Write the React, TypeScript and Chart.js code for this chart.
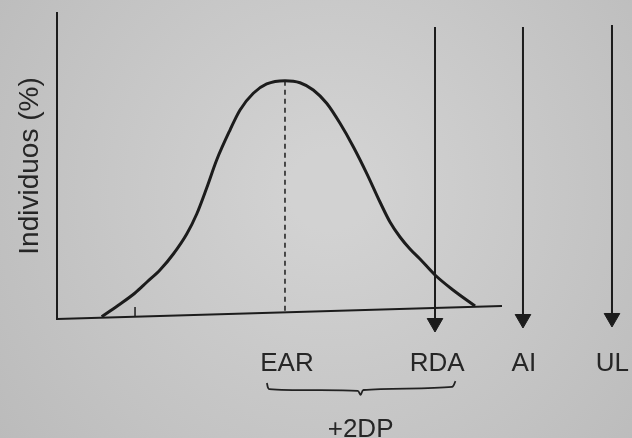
import React, { useEffect, useRef } from "react";
import { Chart, registerables } from "chart.js";

Chart.register(...registerables);

// Distribution curve (intake units vs % individuals)
const curveX = [7.77, 10.61, 13.57, 15.65, 17.91, 20.23, 22.56, 24.3, 26.03, 27.77, 30.09, 31.83, 34.14, 36.47, 39.65, 42.26, 44.57, 46.9, 49.22, 51.53, 53.86, 56.17, 57.91, 59.65, 61.39, 63.13, 65.74, 68.87, 72.7];
const curveY = [0.75, 4.41, 8.5, 12.09, 16.01, 21.24, 27.78, 34.31, 42.81, 51.96, 61.76, 68.3, 73.76, 76.8, 77.88, 77.22, 74.84, 70.49, 63.95, 56.31, 47.61, 38.24, 31.7, 26.8, 22.88, 19.61, 14.38, 9.48, 4.25];

// Baseline (x axis line, slightly tilted in the photo)
const baseX = [0, 77.39];
const baseY = [0, 4.25];

// EAR dashed marker
const earX = 39.65;
const earTop = 77.88;
const earBottom = 2.19;

// small tick on the axis
const smallTickX = 13.57;
const smallTickY = [0.65, 3.92];

// Arrows: RDA, AI, UL
const arrowX = [65.74, 81.04, 96.52];
const arrowTop = [95.4, 95.4, 96.08];
const arrowHead = [-1.31, 0, 0.33];

// Tick labels under the axis
const tickLabels = ["EAR", "RDA", "AI", "UL"];
const tickValues = [40.0, 66.1, 81.2, 96.6];

// Brace under EAR..RDA
const braceX = [36.5, 36.9, 52.3, 52.8, 53.3, 68.7, 69.3];
const braceY = [-20.9, -22.9, -23.5, -24.8, -23.2, -22.2, -20.3];
const braceLabel = "+2DP";
const braceLabelX = 52.8;

const INK = "#1c1c1c";
const FONT = "'Liberation Sans', Arial, Helvetica, sans-serif";

export default function App() {
  const ref = useRef<HTMLCanvasElement | null>(null);

  useEffect(() => {
    const canvas = ref.current;
    if (!canvas) return;

    const bgPlugin = {
      id: "bg",
      beforeDraw(chart: any) {
        const { ctx, width, height } = chart;
        ctx.save();
        const g = ctx.createRadialGradient(330, 190, 40, 330, 190, 430);
        g.addColorStop(0, "#d2d2d2");
        g.addColorStop(1, "#bababa");
        ctx.fillStyle = g;
        ctx.fillRect(0, 0, width, height);
        ctx.restore();
      },
    };

    const textPlugin = {
      id: "braceText",
      afterDraw(chart: any) {
        const { ctx } = chart;
        const xs = chart.scales.x;
        const ys = chart.scales.y;
        ctx.save();
        ctx.fillStyle = "#262626";
        ctx.font = `26px ${FONT}`;
        ctx.textAlign = "center";
        ctx.textBaseline = "alphabetic";
        ctx.fillText(braceLabel, xs.getPixelForValue(braceLabelX), ys.getPixelForValue(-38.5));
        ctx.restore();
      },
    };

    const pts = (xs: number[], ys: number[]) => xs.map((x, i) => ({ x, y: ys[i] }));

    const datasets: any[] = [
      {
        label: "baseline",
        data: pts(baseX, baseY),
        borderColor: INK,
        borderWidth: 2,
        pointRadius: 0,
        clip: false,
      },
      {
        label: "curve",
        data: pts(curveX, curveY),
        borderColor: INK,
        borderWidth: 3,
        pointRadius: 0,
        cubicInterpolationMode: "monotone",
        clip: false,
      },
      {
        label: "EAR",
        data: [{ x: earX, y: earTop }, { x: earX, y: earBottom }],
        borderColor: INK,
        borderWidth: 1.5,
        borderDash: [5, 4],
        pointRadius: 0,
      },
      {
        label: "tick",
        data: smallTickY.map((y) => ({ x: smallTickX, y })),
        borderColor: INK,
        borderWidth: 1.5,
        pointRadius: 0,
      },
      ...arrowX.map((x, i) => ({
        label: "arrow" + i,
        data: [{ x, y: arrowTop[i] }, { x, y: arrowHead[i] }],
        borderColor: INK,
        borderWidth: 2,
        pointRadius: [0, 9],
        pointHoverRadius: 0,
        pointStyle: "triangle",
        rotation: 180,
        pointBackgroundColor: INK,
        pointBorderColor: INK,
        pointBorderWidth: 1,
        clip: false,
      })),
      {
        label: "brace",
        data: pts(braceX, braceY),
        borderColor: "#222222",
        borderWidth: 1.8,
        pointRadius: 0,
        tension: 0.3,
        clip: false,
      },
    ];

    const chart = new Chart(canvas, {
      type: "line",
      data: { datasets },
      plugins: [bgPlugin, textPlugin],
      options: {
        animation: false,
        responsive: false,
        maintainAspectRatio: false,
        events: [],
        layout: { autoPadding: false, padding: { top: 13, right: 0, left: 0, bottom: 0 } },
        plugins: {
          legend: { display: false },
          tooltip: { enabled: false },
          title: { display: false },
        },
        scales: {
          x: {
            type: "linear",
            min: 0,
            max: 100,
            grid: { display: false, drawTicks: false },
            border: { display: false },
            afterFit: (s: any) => {
              s.height = 119;
              s.paddingLeft = 0;
              s.paddingRight = 0;
            },
            afterBuildTicks: (s: any) => {
              s.ticks = tickValues.map((v) => ({ value: v }));
            },
            ticks: {
              autoSkip: false,
              maxRotation: 0,
              minRotation: 0,
              padding: 29,
              color: "#262626",
              font: { size: 26, family: FONT },
              callback: (_v: any, i: number) => tickLabels[i],
            },
          },
          y: {
            type: "linear",
            min: 0,
            max: 100,
            grid: { display: false, drawTicks: false },
            border: { display: true, color: INK, width: 2 },
            ticks: { display: false },
            afterFit: (s: any) => {
              s.width = 57;
              s.paddingTop = 0;
              s.paddingBottom = 0;
            },
            title: {
              display: true,
              text: "Individuos (%)",
              color: "#262626",
              font: { size: 28, family: FONT },
              padding: { top: 13, bottom: 0 },
            },
          },
        },
      },
    });

    return () => chart.destroy();
  }, []);

  return (
    <div style={{ position: "fixed", left: 0, top: 0, width: 632, height: 438 }}>
      <canvas ref={ref} width={632} height={438} style={{ display: "block" }} />
    </div>
  );
}
